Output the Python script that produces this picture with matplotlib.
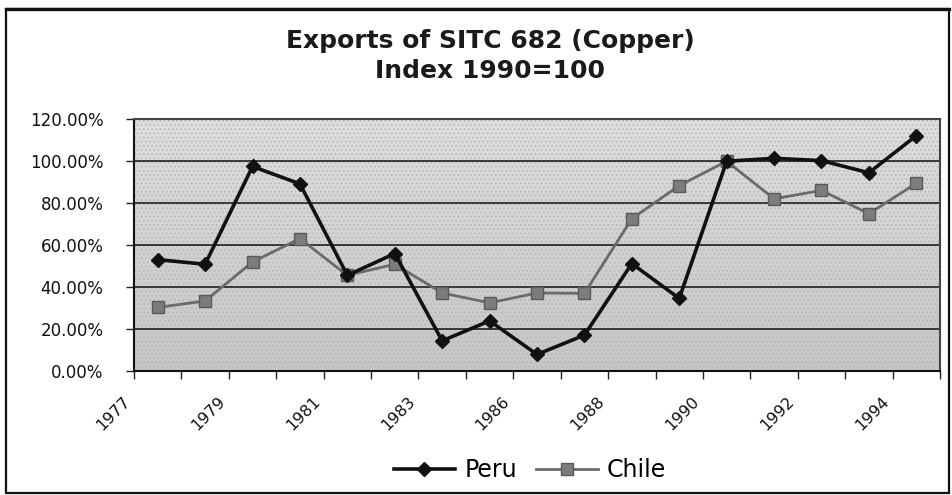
import numpy as np
import matplotlib
matplotlib.use("Agg")
import matplotlib.pyplot as plt
from matplotlib.colors import LinearSegmentedColormap
from matplotlib.transforms import ScaledTranslation
from matplotlib.patches import Rectangle
from matplotlib.lines import Line2D
from matplotlib.ticker import FuncFormatter

# ---- data (percent of 1990 value) ----
years = [1977, 1978, 1979, 1980, 1981, 1982, 1983, 1985, 1986,
         1987, 1988, 1989, 1990, 1991, 1992, 1993, 1994]
peru = [53.1, 50.9, 97.5, 89.2, 45.6, 56.0, 14.4, 23.9, 7.9,
        17.1, 51.2, 34.6, 100.0, 101.4, 100.3, 94.5, 112.2]
chile = [30.3, 33.4, 52.0, 63.1, 45.6, 50.9, 37.2, 32.5, 37.2,
         37.0, 72.6, 88.4, 100.0, 82.1, 86.1, 75.0, 89.5]
tick_labels = ["1977", "1979", "1981", "1983", "1986", "1988", "1990", "1992", "1994"]
y_ticks = [0, 20, 40, 60, 80, 100, 120]
title = "Exports of SITC 682 (Copper)\nIndex 1990=100"

W, H = 952, 495
plt.rcParams['font.family'] = ['DejaVu Sans']
plt.rcParams['hatch.linewidth'] = 0.6
fig = plt.figure(figsize=(W / 100, H / 100), dpi=100, facecolor='white')

left, right, top, bottom = 134, 940, 119.3, 371
ax = fig.add_axes([left / W, 1 - bottom / H, (right - left) / W, (bottom - top) / H])

# gradient background of plot area, with a fine dotted texture
cmap = LinearSegmentedColormap.from_list("bg", ["#c6c6c6", "#dedede"])
ax.imshow(np.linspace(0, 1, 256).reshape(-1, 1), extent=[0, 1, 0, 1],
          transform=ax.transAxes, cmap=cmap, aspect='auto', origin='lower', zorder=0)
ax.add_patch(Rectangle((0, 0), 1, 1, transform=ax.transAxes, fill=False,
                       hatch='....', ec='#b4b4b4', lw=0, zorder=0.5))

x = np.arange(len(years))
ax.plot(x, chile, color='#6a6a6a', lw=2.0, marker='s', ms=8,
        mfc='#7c7c7c', mec='#5a5a5a', mew=1.0, zorder=3, label='Chile')
ax.plot(x, peru, color='#111111', lw=2.6, marker='D', ms=7,
        mfc='#111111', mec='#111111', zorder=4, label='Peru')

ax.set_xlim(-0.5, len(years) - 0.5)
ax.set_ylim(y_ticks[0], y_ticks[-1])

# horizontal gridlines
ax.set_yticks(y_ticks)
ax.yaxis.set_major_formatter(FuncFormatter(lambda v, p: f"{v:.2f}%"))
ax.grid(axis='y', color='#202020', lw=1.2, zorder=1)
ax.set_axisbelow(True)

# category boundary ticks
ax.xaxis.remove_overlapping_locs = False
ax.set_xticks(np.arange(len(years) + 1) - 0.5, minor=True)
label_pos = [years.index(int(t)) - 0.5 for t in tick_labels]
ax.set_xticks(label_pos)
ax.set_xticklabels(tick_labels, rotation=45, ha='right', va='center',
                   rotation_mode='anchor', fontsize=11.5, color='#111111')
ax.tick_params(axis='x', which='major', length=0, pad=20)
ax.tick_params(axis='x', which='minor', length=6, width=1, color='#222222', direction='out')
ax.tick_params(axis='y', length=6, width=1, color='#222222', direction='out',
               labelsize=12, pad=16, labelcolor='#111111')
off = ScaledTranslation(-6 / 100, 0, fig.dpi_scale_trans)
for lab in ax.get_xticklabels():
    lab.set_transform(lab.get_transform() + off)

for s in ['left', 'bottom']:
    ax.spines[s].set_color('#111111')
    ax.spines[s].set_linewidth(1.5)
for s in ['top', 'right']:
    ax.spines[s].set_color('#444444')
    ax.spines[s].set_linewidth(1.5)
    ax.spines[s].set_linestyle((0, (1, 1)))

# title
fig.text(490 / W, 1 - 56 / H, title, ha='center', va='center', fontsize=18,
         fontweight='bold', color='#1a1a1a', linespacing=1.3)

# legend
fig.legend(loc='center', bbox_to_anchor=(530 / W, 1 - 470 / H), ncol=2,
           frameon=False, fontsize=17, handlelength=2.6, handletextpad=0.4,
           columnspacing=0.8, handles=ax.get_lines()[::-1])

# outer border
fig.add_artist(Rectangle((6 / W, 2 / H), (949 - 6) / W, (486 - 2) / H,
                         transform=fig.transFigure, fill=False, ec='#111111', lw=1.6))
fig.add_artist(Line2D([6 / W, 949 / W], [1 - 9 / H, 1 - 9 / H],
                      transform=fig.transFigure, color='#111111', lw=2.4))

fig.savefig("out.png", dpi=100, facecolor='white')
